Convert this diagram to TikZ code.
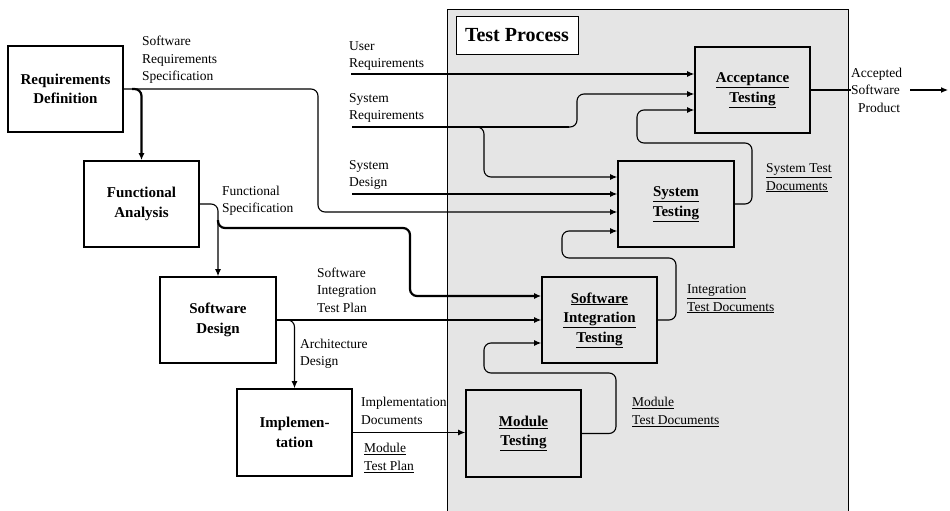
\documentclass[tikz,border=0pt]{standalone}
\usepackage{fontspec}
\setmainfont{Liberation Serif}
\usetikzlibrary{arrows.meta}

\tikzset{
  devbox/.style={draw, line width=1.6pt, minimum width=115pt, minimum height=86pt,
    inner sep=0pt, align=center, font=\bfseries\fontsize{15}{19.5}\selectfont},
  lbl/.style={anchor=west, align=left, inner sep=0pt, font=\fontsize{13.5}{17.5}\selectfont},
  conn/.style={line width=1.1pt, rounded corners=7pt},
  heavy/.style={line width=2.2pt, rounded corners=7pt},
  arr/.style={-{Latex[length=7pt,width=6pt]}},
}
\definecolor{procgray}{RGB}{229,229,229}

\begin{document}
\begin{tikzpicture}[x=1pt,y=-1pt]
\useasboundingbox (0,0) rectangle (950,511);
\clip (0,0) rectangle (950,511);

% test process area
\draw[fill=procgray, line width=0.8pt] (447,9) rectangle (848,530);
\node[draw, fill=white, line width=0.8pt, minimum width=122pt, minimum height=38pt,
  inner sep=0pt, font=\bfseries\fontsize{20}{22}\selectfont] (tp) at (517,35) {Test Process};

% development phases
\node[devbox] (rd) at (65.5,89) {Requirements\\Definition};
\node[devbox] (fa) at (141.5,204) {Functional\\Analysis};
\node[devbox, minimum width=116pt] (sd) at (218,320) {Software\\Design};
\node[devbox, minimum height=87pt] (im) at (294.5,432.5) {Implemen-\\tation};

% test phases
\node[devbox] (at) at (752.5,90) {\underline{Acceptance}\\\underline{Testing}};
\node[devbox, minimum width=116pt] (st) at (676,204) {\underline{System}\\\underline{Testing}};
\node[devbox] (sit) at (599.5,320) {\underline{Software}\\\underline{Integration}\\\underline{Testing}};
\node[devbox, minimum height=87pt] (mt) at (523.5,433.5) {\underline{Module}\\\underline{Testing}};

% labels
\node[lbl] (srs) at (142,60) {Software\\Requirements\\Specification};
\node[lbl] (urq) at (349,56) {User\\Requirements};
\node[lbl] (syr) at (349,108) {System\\Requirements};
\node[lbl] (sdl) at (349,175) {System\\Design};
\node[lbl] (fsp) at (222,201) {Functional\\Specification};
\node[lbl] (sitp) at (317,290) {Software\\Integration\\Test Plan};
\node[lbl] (ard) at (300,354) {Architecture\\Design};
\node[lbl] (imd) at (361,411) {Implementation\\Documents};
\node[lbl] (mtp) at (364,458) {\underline{Module}\\\underline{Test Plan}};
\node[lbl] (std) at (766,178) {\underline{System Test}\\\underline{Documents}};
\node[lbl] (itd) at (687,299) {\underline{Integration}\\\underline{Test Documents}};
\node[lbl] (mtd) at (632,412) {\underline{Module}\\\underline{Test Documents}};
\node[lbl] (asp) at (851,90) {Accepted\\Software\\\hspace*{7pt}Product};

% free ends of the incoming requirement lines
\coordinate (ur) at (351,74);
\coordinate (sr) at (352,127);
\coordinate (sy) at (352,194);
\coordinate (out) at (948,90);

% requirements definition outputs
\draw[conn, arr] (rd.east) -| (318,212) -- (st.west |- 0,212);
\draw[heavy, arr] (132,89) -| (fa.north);

% functional analysis outputs
\draw[conn, arr] (fa.east) -| (sd.north);
\draw[heavy, arr] (218,220) |- (410,228) |- (sit.west |- 0,296);

% software design outputs
\draw[conn, arr] (sd.east) -- (sit.west |- sd.east);
\draw[conn, arr] (286,320) -| (im.north);

% implementation output
\draw[conn, arr] (im.east) -- (mt.west |- im.east);

% user and system inputs
\draw[conn, arr] (ur) -- (at.west |- ur);
\draw[heavy] (sr) -- (569,127);
\draw[conn, arr] (566,127) -| (577,94) -- (at.west |- 0,94);
\draw[conn, arr] (472,127) -| (484,177) -- (st.west |- 0,177);
\draw[conn, arr] (sy) -- (st.west |- sy);

% test documents fed upward
\draw[conn, arr] (st.east) -| (752,143) -| (637,110) -- (at.west |- 0,110);
\draw[conn, arr] (sit.east) -| (676,258) -| (562,231) -- (st.west |- 0,231);
\draw[conn, arr] (mt.east) -| (616,373) -| (484,343) -- (sit.west |- 0,343);

% accepted product
\draw[conn] (at.east) -- (asp.west |- at.east);
\draw[conn, arr] (910,90) -- (out);
\end{tikzpicture}
\end{document}
